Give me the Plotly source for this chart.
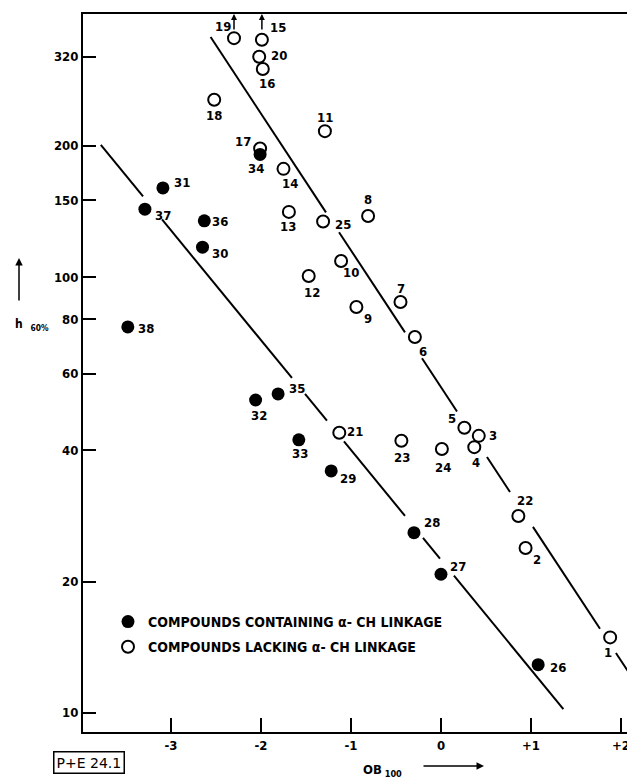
import plotly.graph_objects as go
import numpy as np

# ---------------- data ----------------
open_ids = [1, 2, 3, 4, 5, 6, 7, 8, 9, 10, 11, 12, 13, 14, 15, 16, 17, 18, 19, 20, 21, 22, 23, 24, 25]
open_x = [1.88, 0.94, 0.42, 0.37, 0.26, -0.29, -0.45, -0.81, -0.94, -1.11, -1.29, -1.47, -1.69, -1.75,
          -1.99, -1.98, -2.01, -2.52, -2.30, -2.02, -1.13, 0.86, -0.44, 0.01, -1.31]
open_y = [14.9, 23.9, 43.2, 40.7, 45.1, 72.8, 87.6, 138, 85.3, 108.8, 216, 100.5, 141, 177,
          350, 300, 197, 255, 353, 320, 43.9, 28.3, 42.1, 40.3, 134]

filled_ids = [26, 27, 28, 29, 30, 31, 32, 33, 34, 35, 36, 37, 38]
filled_x = [1.08, 0.00, -0.30, -1.22, -2.65, -3.09, -2.06, -1.58, -2.01, -1.81, -2.63, -3.29, -3.48]
filled_y = [12.9, 20.8, 25.9, 35.9, 117, 160, 52.2, 42.3, 191, 53.9, 134.5, 143, 76.8]

# points lying above the plotted range (arrows)
offscale_ids = [19, 15]

# fitted lines: endpoints (x, y) and visible x-segments (line broken around labels)
upper_line_x = [-2.56, 2.13]
upper_line_y = [355, 12.0]
upper_segments = [(-2.56, -1.278), (-1.133, -0.40), (-0.211, 0.178), (0.511, 0.767), (1.022, 1.767), (1.944, 2.13)]
lower_line_x = [-3.78, 1.36]
lower_line_y = [201, 10.2]
lower_segments = [(-3.78, -3.311), (-3.10, -1.656), (-1.511, -1.267), (-1.078, -0.40), (-0.20, -0.011), (0.144, 1.36)]

x_tickvals = [-3, -2, -1, 0, 1, 2]
x_ticktext = ["-3", "-2", "-1", "0", "+1", "+2"]
y_tickvals = [10, 20, 40, 60, 80, 100, 150, 200, 320]
y_ticktext = ["10", "20", "40", "60", "80", "100", "150", "200", "320"]

legend_filled = "COMPOUNDS CONTAINING α- CH LINKAGE"
legend_open = "COMPOUNDS LACKING α- CH LINKAGE"

# ---------------- style ----------------
FONT = "DejaVu Sans Condensed, Liberation Sans Narrow, DejaVu Sans, sans-serif"
# label offsets in pixels (dx right, dy down) relative to each point
LABEL_OFF = {
    19: (-11, -12), 15: (16, -12), 20: (20, -1), 16: (4, 15), 18: (0, 16), 17: (-17, -7),
    34: (-4, 14), 14: (6, 15), 31: (19, -5), 37: (18, 6), 36: (16, 1), 13: (-1, 15),
    30: (17, 6), 25: (20, 3), 11: (0, -14), 8: (0, -16), 10: (10, 12), 12: (3, 16),
    9: (12, 11), 7: (1, -14), 6: (8, 14), 38: (18, 2), 32: (3, 15), 35: (19, -5),
    33: (1, 14), 21: (16, -1), 5: (-12, -9), 3: (14, 0), 4: (2, 15), 23: (1, 17),
    24: (1, 18), 29: (17, 8), 22: (7, -15), 28: (18, -10), 2: (11, 12), 27: (17, -8),
    1: (-2, 15), 26: (20, 3),
}

X_RANGE = [-3.978, 2.156]
Y_RANGE = [np.log10(9.04), np.log10(401)]

# page body has an 8px margin: figure origin sits at (8, 8) in the page
OFF = 8
FIG_W, FIG_H = 635 - OFF, 781 - OFF
L, T, W_PLOT, H_PLOT = 83 - OFF, 14 - OFF, 552, 718

fig = go.Figure()


def line_traces(xe, ye, segs):
    lx = np.log10(ye)
    slope = (lx[1] - lx[0]) / (xe[1] - xe[0])
    xs, ys = [], []
    for a, b in segs:
        for xv in (a, b):
            xs.append(xv)
            ys.append(10 ** (lx[0] + slope * (xv - xe[0])))
        xs.append(None)
        ys.append(None)
    return xs, ys


for xe, ye, segs in [(upper_line_x, upper_line_y, upper_segments), (lower_line_x, lower_line_y, lower_segments)]:
    xs, ys = line_traces(xe, ye, segs)
    fig.add_trace(go.Scatter(x=xs, y=ys, mode="lines", line=dict(color="black", width=2),
                             showlegend=False, hoverinfo="skip"))

fig.add_trace(go.Scatter(
    x=open_x, y=open_y, mode="markers", name=legend_open, legendrank=2, legendgroup="b",
    marker=dict(symbol="circle-open", size=12, color="black", line=dict(width=2, color="black")),
))
fig.add_trace(go.Scatter(
    x=filled_x, y=filled_y, mode="markers", name=legend_filled, legendrank=1, legendgroup="a",
    marker=dict(symbol="circle", size=13, color="black"),
))

LBL_FONT = dict(family=FONT, size=13, color="black", weight="bold")
annotations = []
for ids, xs, ys in [(open_ids, open_x, open_y), (filled_ids, filled_x, filled_y)]:
    for i, xv, yv in zip(ids, xs, ys):
        dx, dy = LABEL_OFF[i]
        annotations.append(dict(x=xv, y=np.log10(yv), xref="x", yref="y", text=str(i), showarrow=False,
                                xanchor="center", yanchor="middle",
                                xshift=dx, yshift=-dy, font=LBL_FONT))

# upward arrows for off-scale points
for i in offscale_ids:
    k = open_ids.index(i)
    annotations.append(dict(x=open_x[k], y=1.0, xref="x", yref="paper", text="", showarrow=True,
                            arrowhead=2, arrowsize=0.8, arrowwidth=1.5, arrowcolor="black",
                            ax=0, ay=17, axref="pixel", ayref="pixel"))


def px(xp, yp):
    # page pixel -> paper coordinates
    return (xp - OFF - L) / W_PLOT, (T + H_PLOT - (yp - OFF)) / H_PLOT


ox, oy = px(382, 770)
annotations.append(dict(x=ox, y=oy, xref="paper", yref="paper", text="OB<sub> 100</sub>", showarrow=False,
                        xanchor="center", yanchor="middle",
                        font=dict(family=FONT, size=13, color="black", weight="bold")))
ax_, ay_ = px(484, 766)
annotations.append(dict(x=ax_, y=ay_, xref="paper", yref="paper", text="", showarrow=True, arrowhead=2,
                        arrowsize=1, arrowwidth=1.5, arrowcolor="black", ax=-62, ay=0))
hx, hy = px(32, 325)
annotations.append(dict(x=hx, y=hy, xref="paper", yref="paper", text="h<sub>   60%</sub>", showarrow=False,
                        xanchor="center", yanchor="middle",
                        font=dict(family=FONT, size=12, color="black", weight="bold")))
tx, ty = px(19, 258)
annotations.append(dict(x=tx, y=ty, xref="paper", yref="paper", text="", showarrow=True, arrowhead=2,
                        arrowsize=1, arrowwidth=1.5, arrowcolor="black", ax=0, ay=44))
bx, by = px(89, 762)
annotations.append(dict(x=bx, y=by, xref="paper", yref="paper", text="P+E 24.1", showarrow=False,
                        xanchor="center", yanchor="middle",
                        bordercolor="black", borderwidth=1.5, borderpad=2,
                        font=dict(family="DejaVu Sans, sans-serif", size=14, color="black")))

lx_, ly_ = px(108, 606)
fig.update_layout(
    width=FIG_W, height=FIG_H,
    margin=dict(l=L, r=FIG_W - L - W_PLOT, t=T, b=FIG_H - T - H_PLOT),
    paper_bgcolor="white", plot_bgcolor="white",
    showlegend=True,
    legend=dict(x=lx_, y=ly_, xanchor="left", yanchor="top", bgcolor="rgba(0,0,0,0)",
                traceorder="grouped", tracegroupgap=4,
                font=dict(family=FONT, size=14, color="black", weight="bold")),
    annotations=annotations,
    font=dict(family=FONT, color="black"),
)
fig.update_xaxes(range=X_RANGE, showgrid=False, zeroline=False, showline=True, linecolor="black", linewidth=2,
                 mirror=True, ticks="inside", ticklen=14, tickwidth=2, tickcolor="black",
                 tickvals=x_tickvals, ticktext=x_ticktext,
                 tickfont=dict(family=FONT, size=13, color="black", weight="bold"))
fig.update_yaxes(type="log", range=Y_RANGE, showgrid=False, zeroline=False, showline=True, linecolor="black",
                 linewidth=2, ticks="inside", ticklen=13, tickwidth=2, tickcolor="black",
                 tickvals=y_tickvals, ticktext=y_ticktext,
                 tickfont=dict(family=FONT, size=13, color="black", weight="bold"))

fig.write_html("out.html")
